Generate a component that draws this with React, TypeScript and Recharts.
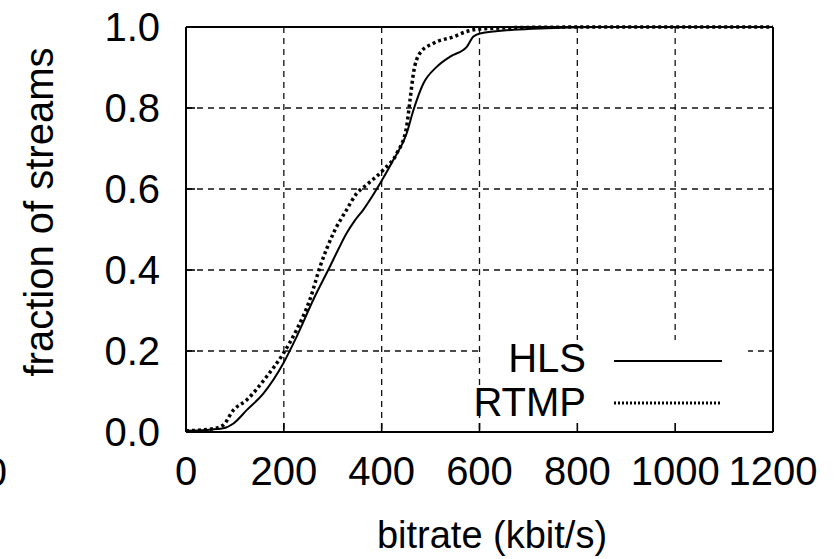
import React from 'react';
import {
  LineChart,
  Line,
  XAxis,
  YAxis,
  CartesianGrid,
  ReferenceArea,
  Legend,
  Customized,
} from 'recharts';

// ---- data ----
const hlsX = [0, 40, 76, 97, 124, 158, 199, 226, 260, 294, 313, 328, 345, 362, 397, 424, 451, 465, 485, 512, 540, 574, 587, 601, 669, 737, 850, 1130];
const hlsY = [0.003, 0.005, 0.009, 0.021, 0.054, 0.095, 0.17, 0.235, 0.326, 0.408, 0.455, 0.49, 0.522, 0.548, 0.614, 0.672, 0.737, 0.795, 0.86, 0.901, 0.927, 0.951, 0.976, 0.984, 0.993, 0.997, 1.0, 1.0];

const rtmpX = [0, 56, 76, 97, 124, 165, 199, 226, 253, 274, 301, 328, 349, 369, 403, 431, 451, 458, 465, 478, 506, 547, 574, 601, 700, 850, 1200];
const rtmpY = [0.003, 0.008, 0.017, 0.054, 0.079, 0.137, 0.194, 0.252, 0.326, 0.408, 0.49, 0.548, 0.589, 0.61, 0.647, 0.688, 0.754, 0.82, 0.886, 0.935, 0.96, 0.976, 0.989, 0.995, 0.999, 1.0, 1.0];

const xTicks = [0, 200, 400, 600, 800, 1000, 1200];
const yTicks = [0, 0.2, 0.4, 0.6, 0.8, 1.0];
const seriesNames = ['HLS', 'RTMP'];

const xTitle = 'bitrate (kbit/s)';
const yTitle = 'fraction of streams';

const hlsData = hlsX.map((x, i) => ({ x, y: hlsY[i] }));
const rtmpData = rtmpX.map((x, i) => ({ x, y: rtmpY[i] }));

const FONT = '"Liberation Sans", Arial, Helvetica, sans-serif';
const DOTS = '3 3';

const renderLegend = (props: any) => {
  const payload = props.payload || [];
  return (
    <svg width={300} height={100} style={{ display: 'block', overflow: 'visible' }}>
      {payload.map((p: any, i: number) => {
        const isDotted = p.value === 'RTMP';
        const base = i === 0 ? 47 : 91;
        const ly = i === 0 ? 36 : 78;
        return (
          <g key={p.value}>
            <text x={146} y={base} textAnchor="end" fontSize={40} fontFamily={FONT} fill="#000">
              {p.value}
            </text>
            <line
              x1={174}
              x2={282}
              y1={ly}
              y2={ly}
              stroke="#000"
              strokeWidth={isDotted ? 3 : 2}
              strokeDasharray={isDotted ? '2 2' : undefined}
            />
          </g>
        );
      })}
    </svg>
  );
};

const Titles = () => (
  <g>
    <text x={492} y={548} textAnchor="middle" fontSize={38} fontFamily={FONT} fill="#000">
      {xTitle}
    </text>
    <text
      x={53}
      y={212}
      textAnchor="middle"
      fontSize={40}
      fontFamily={FONT}
      fill="#000"
      transform="rotate(-90, 53, 212)"
    >
      {yTitle}
    </text>
    <text x={7} y={486} textAnchor="end" fontSize={40} fontFamily={FONT} fill="#000">
      1200
    </text>
  </g>
);

const tickStyle = { fontSize: 40, fontFamily: FONT, fill: '#000' };
const axisLineStyle = { stroke: '#000', strokeWidth: 2 };
const tickLineStyle = { stroke: '#000', strokeWidth: 1.6 };

export default function App() {
  return (
    <div style={{ position: 'absolute', left: 0, top: 0, width: 838, height: 559, background: '#fff' }}>
      <LineChart width={838} height={559} margin={{ top: 22, right: 60, bottom: 0, left: 0 }}>
        <CartesianGrid stroke="#111" strokeWidth={1.3} strokeDasharray="6 5" />
        <ReferenceArea x1={607} x2={1149} y1={0} y2={0.227} fill="#fff" fillOpacity={1} stroke="none" ifOverflow="hidden" />
        <XAxis
          type="number"
          dataKey="x"
          domain={[0, 1200]}
          ticks={xTicks}
          interval={0}
          height={127}
          tick={tickStyle}
          tickSize={-9}
          tickMargin={34}
          axisLine={axisLineStyle}
          tickLine={tickLineStyle}
        />
        <XAxis
          xAxisId="top"
          orientation="top"
          type="number"
          dataKey="x"
          domain={[0, 1200]}
          ticks={xTicks}
          height={5}
          tick={false}
          tickSize={-9}
          axisLine={axisLineStyle}
          tickLine={tickLineStyle}
        />
        <YAxis
          type="number"
          domain={[0, 1]}
          ticks={yTicks}
          interval={0}
          width={186}
          tick={tickStyle}
          tickFormatter={(v: number) => v.toFixed(1)}
          tickSize={-9}
          tickMargin={35}
          axisLine={axisLineStyle}
          tickLine={tickLineStyle}
        />
        <YAxis
          yAxisId="right"
          orientation="right"
          type="number"
          domain={[0, 1]}
          ticks={yTicks}
          width={5}
          tick={false}
          tickSize={-9}
          axisLine={axisLineStyle}
          tickLine={tickLineStyle}
        />
        <Line
          data={hlsData}
          dataKey="y"
          name={seriesNames[0]}
          type="monotone"
          stroke="#000"
          strokeWidth={2}
          dot={false}
          activeDot={false}
          isAnimationActive={false}
        />
        <Line
          data={rtmpData}
          dataKey="y"
          name={seriesNames[1]}
          type="monotone"
          stroke="#000"
          strokeWidth={3.5}
          strokeDasharray={DOTS}
          dot={false}
          activeDot={false}
          isAnimationActive={false}
        />
        <Legend
          layout="vertical"
          align="center"
          verticalAlign="middle"
          content={renderLegend}
          wrapperStyle={{ left: 440, top: 325, width: 300, height: 100 }}
        />
        <Customized component={Titles} />
      </LineChart>
    </div>
  );
}
